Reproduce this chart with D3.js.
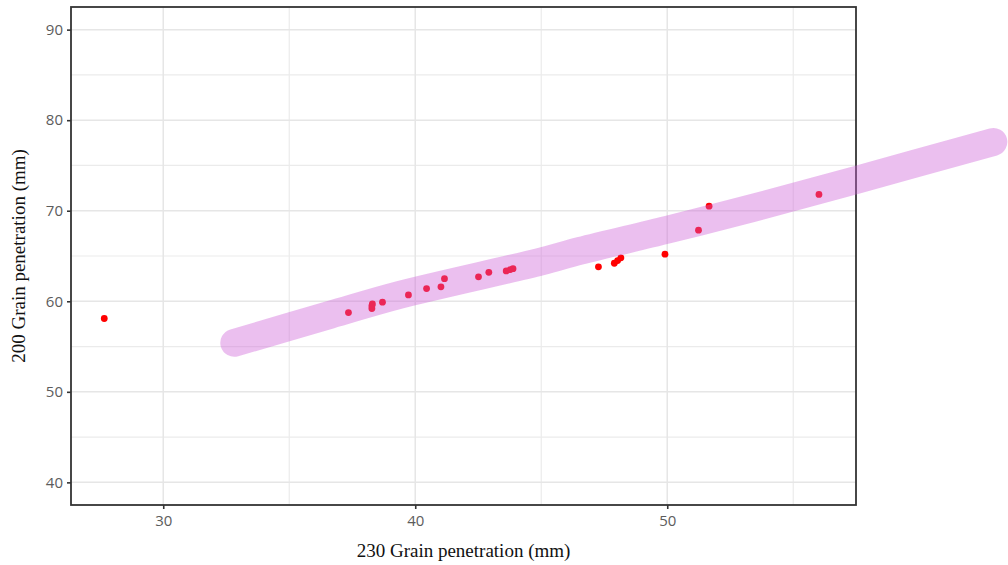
<!DOCTYPE html>
<html>
<head>
<meta charset="utf-8">
<script src="https://cdn.jsdelivr.net/npm/d3@7"></script>
<style>
  body { margin: 0; background: #fff; }
  svg { display: block; }
</style>
</head>
<body>
<div id="chart"></div>
<script>
// Data
const grain230 = [27.66, 37.35, 38.28, 38.28, 38.30, 38.70, 39.73, 40.45, 41.02, 41.16,
                  42.51, 42.92, 43.61, 43.77, 43.88, 47.27, 47.90, 48.03, 48.16, 49.91,
                  51.24, 51.66, 56.02];
const grain200 = [58.1, 58.75, 59.2, 59.5, 59.7, 59.9, 60.7, 61.4, 61.6, 62.5,
                  62.7, 63.2, 63.35, 63.5, 63.6, 63.8, 64.2, 64.5, 64.8, 65.2,
                  67.85, 70.5, 71.8];

// Hand drawn highlight stroke (data units)
const strokeX = [32.82, 36.63, 39.40, 44.96, 46.55, 50.0, 53.29, 57.5, 62.94];
const strokeY = [55.41, 58.51, 60.72, 64.37, 65.58, 67.9, 70.23, 73.4, 77.6];

const xTicks = [30, 40, 50];
const xMinor = [35, 45, 55];
const yTicks = [40, 50, 60, 70, 80, 90];
const yMinor = [45, 55, 65, 75, 85];

const W = 1008, H = 565;
const panel = { left: 71, right: 856, top: 7, bottom: 505 };

const svg = d3.select('#chart').append('svg')
    .attr('width', W).attr('height', H);

const x = d3.scaleLinear().domain([26.34, 57.49]).range([panel.left, panel.right]);
const y = d3.scaleLinear().domain([37.5, 92.5]).range([panel.bottom, panel.top]);

const gGrid = svg.append('g');
// minor grid
gGrid.selectAll('.xminor').data(xMinor).join('line')
    .attr('x1', d => x(d)).attr('x2', d => x(d))
    .attr('y1', panel.top).attr('y2', panel.bottom)
    .attr('stroke', '#ebebeb').attr('stroke-width', 1.2);
gGrid.selectAll('.yminor').data(yMinor).join('line')
    .attr('y1', d => y(d)).attr('y2', d => y(d))
    .attr('x1', panel.left).attr('x2', panel.right)
    .attr('stroke', '#ebebeb').attr('stroke-width', 1.2);
// major grid
gGrid.selectAll('.xmajor').data(xTicks).join('line')
    .attr('x1', d => x(d)).attr('x2', d => x(d))
    .attr('y1', panel.top).attr('y2', panel.bottom)
    .attr('stroke', '#e6e6e6').attr('stroke-width', 1.5);
gGrid.selectAll('.ymajor').data(yTicks).join('line')
    .attr('y1', d => y(d)).attr('y2', d => y(d))
    .attr('x1', panel.left).attr('x2', panel.right)
    .attr('stroke', '#e6e6e6').attr('stroke-width', 1.5);

// points
svg.append('g').selectAll('circle').data(grain230).join('circle')
    .attr('cx', d => x(d))
    .attr('cy', (d, i) => y(grain200[i]))
    .attr('r', 3.4)
    .attr('fill', '#ff0000');

// panel border
svg.append('rect')
    .attr('x', panel.left).attr('y', panel.top)
    .attr('width', panel.right - panel.left).attr('height', panel.bottom - panel.top)
    .attr('fill', 'none').attr('stroke', '#333').attr('stroke-width', 1.8);

// axes
const xAxis = svg.append('g')
    .attr('transform', `translate(0,${panel.bottom})`)
    .call(d3.axisBottom(x).tickValues(xTicks).tickSize(4).tickPadding(6));
const yAxis = svg.append('g')
    .attr('transform', `translate(${panel.left},0)`)
    .call(d3.axisLeft(y).tickValues(yTicks).tickSize(4).tickPadding(4));
[xAxis, yAxis].forEach(g => {
    g.select('.domain').remove();
    g.selectAll('.tick line').attr('stroke', '#333').attr('stroke-width', 1.6);
    g.selectAll('.tick text')
        .attr('fill', '#5c5c5c')
        .style('font-family', '"Open Sans", "DejaVu Sans", sans-serif')
        .style('font-size', '15px');
});

// highlight stroke on top
const line = d3.line()
    .x(d => x(d[0])).y(d => y(d[1]))
    .curve(d3.curveCatmullRom);
svg.append('path')
    .datum(strokeX.map((v, i) => [v, strokeY[i]]))
    .attr('d', line)
    .attr('fill', 'none')
    .attr('stroke', 'rgb(205,95,215)')
    .attr('stroke-opacity', 0.4)
    .attr('stroke-width', 28)
    .attr('stroke-linecap', 'round')
    .attr('stroke-linejoin', 'round');

// axis titles
svg.append('text')
    .attr('x', (panel.left + panel.right) / 2).attr('y', 557)
    .attr('text-anchor', 'middle')
    .style('font-family', '"Liberation Serif", "DejaVu Serif", serif')
    .style('font-size', '19px').attr('fill', '#111')
    .text('230 Grain penetration (mm)');
svg.append('text')
    .attr('transform', `translate(25,${(panel.top + panel.bottom) / 2}) rotate(-90)`)
    .attr('text-anchor', 'middle')
    .style('font-family', '"Liberation Serif", "DejaVu Serif", serif')
    .style('font-size', '19px').attr('fill', '#111')
    .text('200 Grain penetration (mm)');
</script>
</body>
</html>
